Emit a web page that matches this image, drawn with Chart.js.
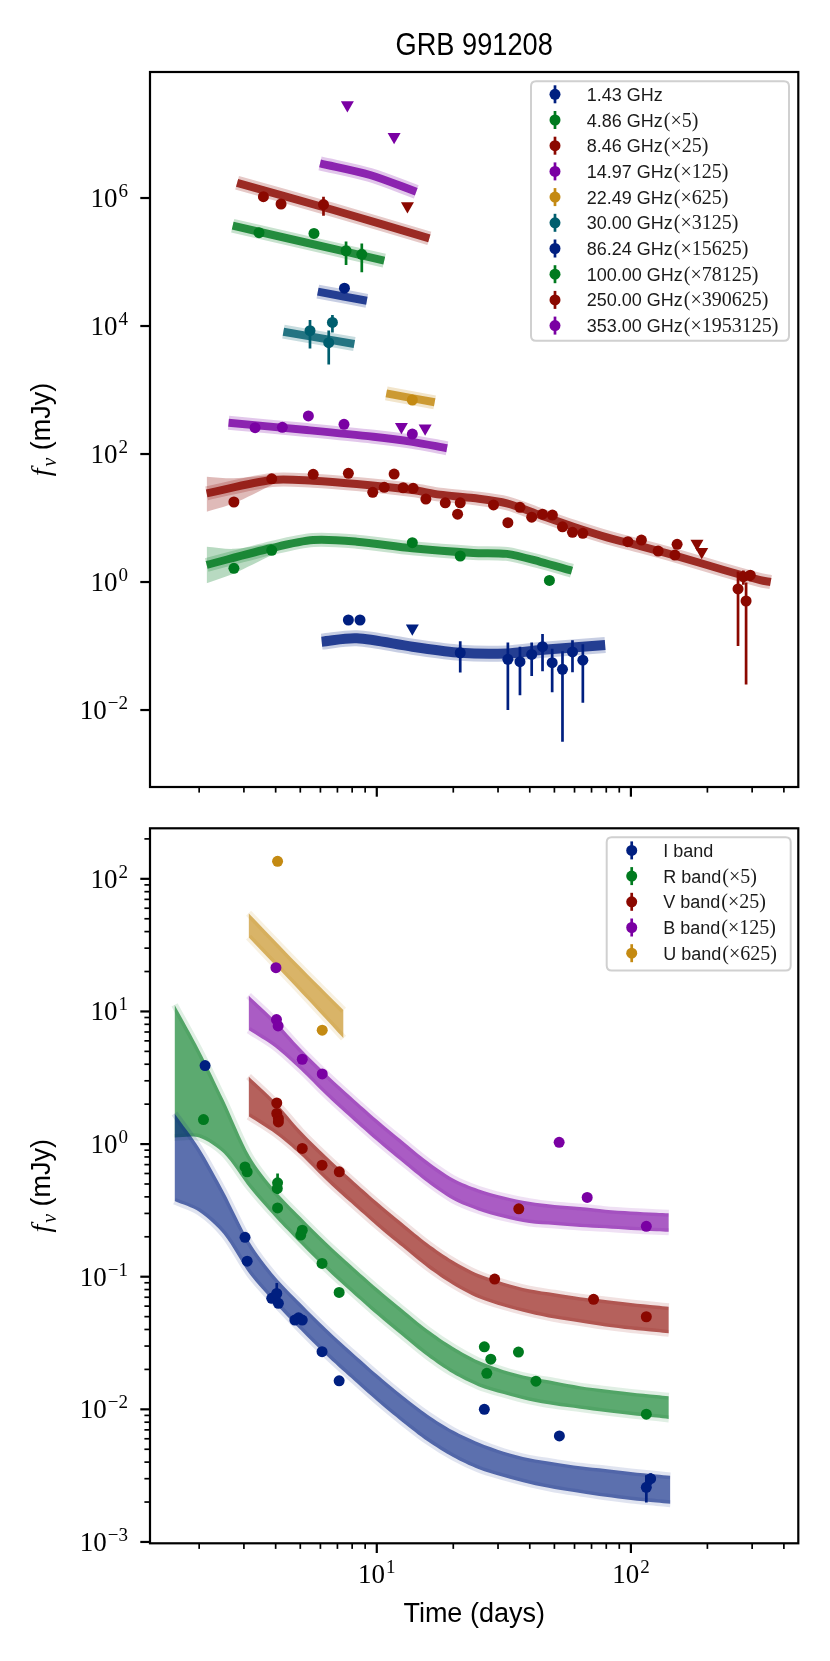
<!DOCTYPE html>
<html><head><meta charset="utf-8">
<script src="https://cdn.jsdelivr.net/npm/chart.js@4.4.1/dist/chart.umd.min.js"></script>
<style>
html,body{margin:0;padding:0;background:#fff;}
#wrap{position:relative;width:830px;height:1661px;overflow:hidden;background:#fff;}
#c1,#c2{position:absolute;left:0;}
#c1{top:0;} #c2{top:810px;}
</style></head><body>
<div id="wrap"><canvas id="c1" width="830" height="810"></canvas><canvas id="c2" width="830" height="851"></canvas></div>
<script>
// ---------------- axes ----------------
const X_MIN = 1.281, X_MAX = 455.8;
const TOP_Y_MIN = 6.27e-4, TOP_Y_MAX = 9.31e7;
const BOT_Y_MIN = 9.77e-4, BOT_Y_MAX = 240.4;
const X_MAJOR = [10, 100];
const X_MAJOR_EXP = ['1', '2'];
const X_MINOR = [2,3,4,5,6,7,8,9,20,30,40,50,60,70,80,90,200,300,400];
const TOP_Y_MAJOR = [1e-2, 1, 1e2, 1e4, 1e6];
const TOP_Y_EXP = ['\u22122', '0', '2', '4', '6'];
const BOT_Y_MAJOR = [1e-3, 1e-2, 1e-1, 1, 1e1, 1e2];
const BOT_Y_EXP = ['\u22123', '\u22122', '\u22121', '0', '1', '2'];
const BOT_Y_MINOR_MULT = [2,3,4,5,6,7,8,9];

// ---------------- legends ----------------
const TITLE = 'GRB 991208';
const X_TITLE = 'Time (days)';
const TOP_LEG_LABELS = ['1.43 GHz','4.86 GHz','8.46 GHz','14.97 GHz','22.49 GHz','30.00 GHz','86.24 GHz','100.00 GHz','250.00 GHz','353.00 GHz'];
const TOP_LEG_FACTORS = ['','\u00d75','\u00d725','\u00d7125','\u00d7625','\u00d73125','\u00d715625','\u00d778125','\u00d7390625','\u00d71953125'];
const BOT_LEG_LABELS = ['I band','R band','V band','B band','U band'];
const BOT_LEG_FACTORS = ['','\u00d75','\u00d725','\u00d7125','\u00d7625'];

// ---------------- top panel data (radio / mm) ----------------
const r143_t = [7.73,8.59,21.3,32.8,36.6,40.7,44.9,49.0,53.8,58.9,64.7];
const r143_f = [0.255,0.255,0.0785,0.062,0.057,0.074,0.0975,0.055,0.0432,0.081,0.060];
const r143_e = [0.015,0.015,0.04,0.052,0.04,0.04,0.057,0.036,0.04,0.042,0.047];
const r143_ulT = [13.8], r143_ulF = [0.19];
const r143_mT = [6.07,8.34,13.8,21.3,32.5,44,79.2];
const r143_mF = [0.117,0.132,0.0975,0.0785,0.0767,0.0866,0.104];

const r486_t = [2.74,3.86,13.8,21.3,47.8];
const r486_f = [1.64,3.13,4.11,2.55,1.06];
const r486_e = [0.1,0.2,0.3,0.2,0.1];
const r486_mT = [2.14,3.86,5.62,8.34,13.8,24,32.5,44,58.6];
const r486_mF = [1.85,3.4,4.53,4.27,3.37,2.85,2.75,2.07,1.50];
const r486_fanT = [2.14,2.74,3.86], r486_fanHi = [3.56,3.3,4.03], r486_fanLo = [0.955,1.36,2.64];

const r846_t = [2.74,3.86,5.62,7.73,9.64,10.7,11.7,12.7,13.9,15.6,18.6,20.8,21.3,28.8,32.8,36.6,40.7,44.9,49.1,53.8,58.9,64.7,97.3,110,128,149,152,264,277,284,295];
const r846_f = [17.8,41,48.2,49.9,25.2,30.2,48.7,29.7,29.1,19.8,17.3,11.5,17.3,16.0,8.45,14.7,10.3,11.5,11.1,7.3,5.97,5.76,4.27,4.53,3.05,2.64,3.88,0.78,1.21,0.505,1.28];
const r846_e = [1.5,2,2,2,1.5,1.5,2,1.5,1.5,1,1,1,1,1,0.8,1,0.8,0.8,0.8,0.6,0.5,0.5,0.4,0.6,0.4,0.3,0.4,0.68,0.3,0.48,0.25];
const r846_ulT = [182,190], r846_ulF = [4.0,2.97];
const r846_mT = [2.14,3.86,5.62,8.34,13.8,17.7,24,32.5,44,59.4,80.5,109,147,232,323,355];
const r846_mF = [24.3,39.3,38.3,34.0,27.4,23.2,20.5,17.0,11.1,7.31,4.99,3.65,2.64,1.54,1.07,1.0];
const r846_fanT = [2.14,2.74,3.86], r846_fanHi = [44.2,41.7,46.8], r846_fanLo = [12.5,17.0,32.8];

const r1497_t = [3.32,4.25,5.38,7.43,13.8];
const r1497_f = [258,261,393,291,205];
const r1497_e = [12,12,18,15,20];
const r1497_ulT = [12.5,15.5], r1497_ulF = [267,252];
const r1497_mT = [2.61,5.3,9.7,13.8,18.9];
const r1497_mF = [308,237,186,155,123];

const r2249_t = [13.8], r2249_f = [698], r2249_e = [90];
const r2249_mT = [10.9,16.9], r2249_mF = [887,643];

const r30_t = [5.46,6.47,6.69], r30_f = [8450,5500,11400], r30_e = [4000,3000,3500];
const r30_mT = [4.29,8.16], r30_mF = [8150,5240];

const r8624_t = [7.46], r8624_f = [39000], r8624_e = [3000];
const r8624_mT = [5.86,9.14], r8624_mF = [34400,24800];

const r100_t = [3.44,5.66,7.57,8.73], r100_f = [287000,280000,150000,132000], r100_e = [15000,20000,60000,63000];
const r100_mT = [2.71,5.30,10.7], r100_mF = [369000,200000,105000];

const r250_t = [3.58,4.20,6.17], r250_f = [1050000,806000,790000], r250_e = [150000,100000,260000];
const r250_ulT = [13.2], r250_ulF = [750000];
const r250_mT = [2.82,6.75,16.1], r250_mF = [1730000,650000,234000];

const r353_ulT = [7.66,11.7], r353_ulF = [2.84e7,9.1e6];
const r353_mT = [5.98,9.41,14.3], r353_mF = [3480000,2290000,1250000];

// ---------------- bottom panel data (optical) ----------------
const I_t = [2.11,3.03,3.09,3.86,3.98,4.04,4.10,4.76,4.92,5.09,6.09,7.11,26.5,52.3,115,119.6];
const I_f = [3.91,0.198,0.131,0.0687,0.0706,0.0748,0.063,0.0471,0.049,0.0471,0.0272,0.0164,0.0100,0.0063,0.00258,0.0030];
const I_e = [0,0,0,0.005,0.004,0.015,0.004,0.003,0.003,0.003,0,0,0,0,0.0006,0.0003];
const I_bT = [1.6,2.0,2.5,3.16,3.98,5.01,6.31,7.94,10,12.6,15.85,19.95,25.1,31.6,39.8,50.1,63.1,79.4,100,126,143];
const I_bHi = [1.698,0.933,0.4365,0.182,0.100,0.0631,0.0407,0.0272,0.0184,0.01274,0.00912,0.00692,0.00562,0.00479,0.00427,0.00398,0.00372,0.00355,0.00337,0.00322,0.00315];
const I_bLo = [0.3715,0.309,0.2089,0.1047,0.0631,0.0398,0.0257,0.0172,0.0116,0.00804,0.00575,0.00437,0.00355,0.00309,0.00275,0.00251,0.00234,0.00219,0.002075,0.001986,0.001941];

const R_t = [2.08,3.03,3.09,4.06,4.07,4.07,5.02,5.09,6.09,7.11,26.5,27.1,28.1,36.1,42.3,115];
const R_f = [1.53,0.673,0.618,0.463,0.510,0.330,0.206,0.224,0.126,0.0761,0.0296,0.0187,0.0239,0.027,0.0163,0.0092];
const R_e = [0,0,0,0.03,0.09,0,0,0,0,0,0,0,0,0,0,0];
const R_bT = [1.6,2.0,2.5,3.16,3.98,5.01,6.31,7.94,10,12.6,15.85,19.95,25.1,31.6,39.8,50.1,63.1,79.4,100,126,141];
const R_bHi = [11.22,5.13,2.138,0.813,0.447,0.282,0.182,0.1216,0.0822,0.0569,0.0398,0.0295,0.0232,0.01972,0.01758,0.01622,0.01496,0.01413,0.01340,0.01282,0.01253];
const R_bLo = [1.122,1.122,0.851,0.468,0.282,0.178,0.1148,0.0767,0.0519,0.0359,0.0251,0.0186,0.01496,0.01303,0.01161,0.01072,0.01012,0.00955,0.00906,0.00867,0.00847];

const V_t = [4.04,4.04,4.10,4.10,5.09,6.09,7.12,29.1,36.2,71.3,115];
const V_f = [2.04,1.70,1.56,1.47,0.927,0.693,0.618,0.096,0.325,0.0675,0.0499];
const V_bT = [3.13,3.98,5.01,6.31,7.94,10,12.6,15.85,19.95,25.1,31.6,39.8,50.1,63.1,79.4,100,126,141];
const V_bHi = [3.236,2.089,1.259,0.813,0.543,0.367,0.254,0.178,0.1318,0.1047,0.0902,0.0804,0.0750,0.0700,0.0668,0.0634,0.0607,0.0593];
const V_bLo = [1.622,1.202,0.832,0.537,0.359,0.2427,0.168,0.1175,0.0871,0.0692,0.0596,0.0531,0.0484,0.0452,0.0422,0.0400,0.0383,0.0374];

const B_t = [4.01,4.03,4.09,5.09,6.10,52.2,67.3,115];
const B_f = [21.4,8.69,7.78,4.36,3.38,1.03,0.396,0.240];
const B_bT = [3.13,3.98,5.01,6.31,7.94,10,12.6,15.85,19.95,25.1,31.6,39.8,50.1,63.1,79.4,100,126,141];
const B_bHi = [13.18,8.51,5.25,3.39,2.265,1.531,1.059,0.741,0.550,0.457,0.403,0.367,0.3467,0.335,0.320,0.3105,0.304,0.3006];
const B_bLo = [7.24,5.37,3.63,2.344,1.567,1.059,0.733,0.513,0.380,0.316,0.2786,0.254,0.2455,0.237,0.2317,0.2249,0.2203,0.2178];

const U_t = [4.07,6.10], U_f = [135.5,7.22];
const U_bT = [3.13,4.84,7.4], U_bHi = [55.0,23.1,10.2], U_bLo = [36.3,15.1,6.28];

// ---------------- styles ----------------
const SANS = '"Liberation Sans", Arial, Helvetica, sans-serif';
const SERIF = '"Liberation Serif", "Times New Roman", serif';
const COL = {blue:'0,31,128', green:'0,122,31', red:'139,8,0', purple:'122,0,163', gold:'196,138,18', teal:'0,94,110'};
const TOP_LEG_COLORS = ['blue','green','red','purple','gold','teal','blue','green','red','purple'];
const BOT_LEG_COLORS = ['blue','green','red','purple','gold'];
const TENSION = 0.3;
function rgba(c,a){return 'rgba('+c+','+a+')';}
function pts(t,f){return t.map((v,i)=>({x:v,y:f[i]}));}

const TOP_SERIES = [
 {c:'blue',  t:r143_t,f:r143_f,e:r143_e,ulT:r143_ulT,ulF:r143_ulF,mT:r143_mT,mF:r143_mF,w:10},
 {c:'green', t:r486_t,f:r486_f,e:r486_e,mT:r486_mT,mF:r486_mF,fanT:r486_fanT,fanHi:r486_fanHi,fanLo:r486_fanLo,w:8},
 {c:'red',   t:r846_t,f:r846_f,e:r846_e,ulT:r846_ulT,ulF:r846_ulF,mT:r846_mT,mF:r846_mF,fanT:r846_fanT,fanHi:r846_fanHi,fanLo:r846_fanLo,w:8},
 {c:'purple',t:r1497_t,f:r1497_f,e:r1497_e,ulT:r1497_ulT,ulF:r1497_ulF,mT:r1497_mT,mF:r1497_mF,w:8},
 {c:'gold',  t:r2249_t,f:r2249_f,e:r2249_e,mT:r2249_mT,mF:r2249_mF,w:8},
 {c:'teal',  t:r30_t,f:r30_f,e:r30_e,mT:r30_mT,mF:r30_mF,w:8},
 {c:'blue',  t:r8624_t,f:r8624_f,e:r8624_e,mT:r8624_mT,mF:r8624_mF,w:8},
 {c:'green', t:r100_t,f:r100_f,e:r100_e,mT:r100_mT,mF:r100_mF,w:8},
 {c:'red',   t:r250_t,f:r250_f,e:r250_e,ulT:r250_ulT,ulF:r250_ulF,mT:r250_mT,mF:r250_mF,w:8},
 {c:'purple',ulT:r353_ulT,ulF:r353_ulF,mT:r353_mT,mF:r353_mF,w:8}
];
const BOT_SERIES = [
 {c:'blue',  t:I_t,f:I_f,e:I_e,bT:I_bT,bHi:I_bHi,bLo:I_bLo},
 {c:'green', t:R_t,f:R_f,e:R_e,bT:R_bT,bHi:R_bHi,bLo:R_bLo},
 {c:'red',   t:V_t,f:V_f,bT:V_bT,bHi:V_bHi,bLo:V_bLo},
 {c:'purple',t:B_t,f:B_f,bT:B_bT,bHi:B_bHi,bLo:B_bLo},
 {c:'gold',  t:U_t,f:U_f,bT:U_bT,bHi:U_bHi,bLo:U_bLo}
];

function pointDs(s){
  const out=[]; const c=COL[s.c];
  if(s.t){
    out.push({type:'line',showLine:false,data:pts(s.t,s.f),errs:s.e||null,errColor:rgba(c,1),
      pointRadius:5.5,pointHoverRadius:5.5,pointBackgroundColor:rgba(c,1),pointBorderWidth:0,pointBorderColor:rgba(c,1),order:1});
  }
  if(s.ulT){
    out.push({type:'line',showLine:false,data:pts(s.ulT,s.ulF),pointStyle:'triangle',pointRotation:180,
      pointRadius:7.5,pointHoverRadius:7.5,pointBackgroundColor:rgba(c,1),pointBorderWidth:0,order:1});
  }
  return out;
}
function topDatasets(){
  const ds=[];
  TOP_SERIES.forEach(s=>{
    const c=COL[s.c];
    if(s.fanT){
      ds.push({type:'line',data:pts(s.fanT,s.fanHi),borderColor:'transparent',borderWidth:0,pointRadius:0,fill:'+1',backgroundColor:rgba(c,0.28),tension:TENSION,order:12});
      ds.push({type:'line',data:pts(s.fanT,s.fanLo),borderColor:'transparent',borderWidth:0,pointRadius:0,fill:false,tension:TENSION,order:12});
    }
    ds.push({type:'line',data:pts(s.mT,s.mF),borderColor:rgba(c,0.22),borderWidth:s.w+6,pointRadius:0,fill:false,tension:TENSION,borderCapStyle:'butt',order:11});
    ds.push({type:'line',data:pts(s.mT,s.mF),borderColor:rgba(c,0.82),borderWidth:s.w,pointRadius:0,fill:false,tension:TENSION,borderCapStyle:'butt',order:10});
  });
  TOP_SERIES.forEach(s=>pointDs(s).forEach(d=>ds.push(d)));
  return ds;
}
function botDatasets(){
  const ds=[];
  BOT_SERIES.forEach(s=>{
    const c=COL[s.c];
    ds.push({type:'line',data:pts(s.bT,s.bHi),borderColor:rgba(c,0.12),borderWidth:7,pointRadius:0,fill:'+1',backgroundColor:rgba(c,0.64),tension:TENSION,order:10});
    ds.push({type:'line',data:pts(s.bT,s.bLo),borderColor:rgba(c,0.12),borderWidth:7,pointRadius:0,fill:false,tension:TENSION,order:10});
  });
  BOT_SERIES.forEach(s=>pointDs(s).forEach(d=>ds.push(d)));
  return ds;
}

// ---------------- drawing helpers ----------------
function drawPow(ctx, exp, x, baseY, align){
  ctx.font='27px '+SERIF; const wb=ctx.measureText('10').width;
  ctx.font='19px '+SERIF; const we=ctx.measureText(exp).width;
  const tot=wb+1+we;
  const x0 = align==='right' ? x-tot : x-tot/2;
  ctx.textAlign='left'; ctx.textBaseline='alphabetic'; ctx.fillStyle='#000';
  ctx.font='27px '+SERIF; ctx.fillText('10',x0,baseY);
  ctx.font='19px '+SERIF; ctx.fillText(exp,x0+wb+1,baseY-10);
}
function drawLegend(ctx, box, labels, factors, colors){
  ctx.save();
  const r=5;
  ctx.beginPath();
  ctx.moveTo(box.x+r,box.y); ctx.lineTo(box.x+box.w-r,box.y); ctx.quadraticCurveTo(box.x+box.w,box.y,box.x+box.w,box.y+r);
  ctx.lineTo(box.x+box.w,box.y+box.h-r); ctx.quadraticCurveTo(box.x+box.w,box.y+box.h,box.x+box.w-r,box.y+box.h);
  ctx.lineTo(box.x+r,box.y+box.h); ctx.quadraticCurveTo(box.x,box.y+box.h,box.x,box.y+box.h-r);
  ctx.lineTo(box.x,box.y+r); ctx.quadraticCurveTo(box.x,box.y,box.x+r,box.y); ctx.closePath();
  ctx.fillStyle='rgba(255,255,255,0.8)'; ctx.fill();
  ctx.strokeStyle='#d0d0d0'; ctx.lineWidth=2; ctx.stroke();
  labels.forEach((lab,i)=>{
    const y=box.row0+i*box.step; const c=COL[colors[i]];
    ctx.strokeStyle=rgba(c,1); ctx.lineWidth=2.7;
    ctx.beginPath(); ctx.moveTo(box.mx,y-9); ctx.lineTo(box.mx,y+9); ctx.stroke();
    ctx.fillStyle=rgba(c,1); ctx.beginPath(); ctx.arc(box.mx,y,5.5,0,Math.PI*2); ctx.fill();
    ctx.fillStyle='#1a1a1a'; ctx.textAlign='left'; ctx.textBaseline='alphabetic';
    ctx.font='18px '+SANS; ctx.fillText(lab,box.tx,y+6.5);
    if(factors[i]){
      const w=ctx.measureText(lab).width;
      ctx.font='20px '+SERIF; ctx.fillText('('+factors[i]+')',box.tx+w+1,y+6.5);
    }
  });
  ctx.restore();
}
function drawYLabel(ctx, cx, cy){
  ctx.save(); ctx.translate(cx,cy); ctx.rotate(-Math.PI/2);
  ctx.fillStyle='#000'; ctx.textAlign='left'; ctx.textBaseline='alphabetic';
  ctx.font='italic 28px '+SERIF; const w1=ctx.measureText('f').width;
  ctx.font='italic 20px '+SERIF; const w2=ctx.measureText('\u03bd').width;
  ctx.font='27px '+SANS; const w3=ctx.measureText(' (mJy)').width;
  const tot=w1+2+w2+w3; let x=-tot/2;
  ctx.font='italic 28px '+SERIF; ctx.fillText('f',x,0); x+=w1+2;
  ctx.font='italic 20px '+SERIF; ctx.fillText('\u03bd',x,6); x+=w2;
  ctx.font='27px '+SANS; ctx.fillText(' (mJy)',x,0);
  ctx.restore();
}
function makeAxesPlugin(cfg){
  return {
    id:'axesdraw'+cfg.id,
    beforeDatasetDraw(chart,args){
      const ds=chart.data.datasets[args.index];
      if(!ds.errs) return;
      const {ctx,chartArea:a,scales:{x,y}}=chart;
      ctx.save(); ctx.beginPath(); ctx.rect(a.left,a.top,a.right-a.left,a.bottom-a.top); ctx.clip();
      ctx.strokeStyle=ds.errColor; ctx.lineWidth=2.7; ctx.lineCap='butt';
      ds.data.forEach((p,i)=>{
        const e=ds.errs[i]; if(!e) return;
        const px=x.getPixelForValue(p.x);
        const yt=y.getPixelForValue(p.y+e);
        const yb=(p.y-e)>0 ? y.getPixelForValue(p.y-e) : a.bottom;
        ctx.beginPath(); ctx.moveTo(px,yt); ctx.lineTo(px,yb); ctx.stroke();
      });
      ctx.restore();
    },
    afterDraw(chart){
      const {ctx,chartArea:a,scales:{x,y}}=chart;
      ctx.save(); ctx.strokeStyle='#000';
      ctx.lineWidth=1.7;
      X_MINOR.forEach(v=>{const px=x.getPixelForValue(v); if(px<a.left||px>a.right) return; ctx.beginPath(); ctx.moveTo(px,a.bottom); ctx.lineTo(px,a.bottom+5.6); ctx.stroke();});
      ctx.lineWidth=2.2;
      X_MAJOR.forEach(v=>{const px=x.getPixelForValue(v); ctx.beginPath(); ctx.moveTo(px,a.bottom); ctx.lineTo(px,a.bottom+9.7); ctx.stroke();});
      ctx.lineWidth=1.7;
      cfg.yMinor.forEach(v=>{const py=y.getPixelForValue(v); if(py<a.top||py>a.bottom) return; ctx.beginPath(); ctx.moveTo(a.left-5.6,py); ctx.lineTo(a.left,py); ctx.stroke();});
      ctx.lineWidth=2.2;
      cfg.yMajor.forEach(v=>{const py=y.getPixelForValue(v); ctx.beginPath(); ctx.moveTo(a.left-9.7,py); ctx.lineTo(a.left,py); ctx.stroke();});
      ctx.lineWidth=2.2; ctx.strokeRect(a.left,a.top,a.right-a.left,a.bottom-a.top);
      ctx.restore();
      ctx.save();
      cfg.yMajor.forEach((v,i)=>{const py=y.getPixelForValue(v); drawPow(ctx,cfg.yExp[i],128,py+9,'right');});
      if(cfg.xLabels){
        X_MAJOR.forEach((v,i)=>{const px=x.getPixelForValue(v); drawPow(ctx,X_MAJOR_EXP[i],px,a.bottom+40,'center');});
        ctx.fillStyle='#000'; ctx.font='27px '+SANS; ctx.textAlign='center'; ctx.textBaseline='alphabetic';
        ctx.fillText(X_TITLE,(a.left+a.right)/2,a.bottom+79);
      }
      if(cfg.title){
        ctx.save(); ctx.translate((a.left+a.right)/2,55); ctx.scale(0.85,1);
        ctx.fillStyle='#000'; ctx.font='32px '+SANS; ctx.textAlign='center'; ctx.textBaseline='alphabetic';
        ctx.fillText(cfg.title,0,0); ctx.restore();
      }
      drawYLabel(ctx,50,(a.top+a.bottom)/2);
      drawLegend(ctx,cfg.legend,cfg.legLabels,cfg.legFactors,cfg.legColors);
      ctx.restore();
    }
  };
}

const BOT_Y_MINOR=[]; BOT_Y_MAJOR.forEach(d=>BOT_Y_MINOR_MULT.forEach(m=>BOT_Y_MINOR.push(d*m)));

function baseOptions(ymin,ymax,pad){
  return {
    responsive:false, animation:false, events:[],
    layout:{padding:pad},
    plugins:{legend:{display:false},tooltip:{enabled:false},title:{display:false}},
    scales:{
      x:{type:'logarithmic',min:X_MIN,max:X_MAX,display:false,bounds:'data'},
      y:{type:'logarithmic',min:ymin,max:ymax,display:false,bounds:'data'}
    }
  };
}

new Chart(document.getElementById('c1'),{
  type:'line',
  data:{datasets:topDatasets()},
  options:baseOptions(TOP_Y_MIN,TOP_Y_MAX,{left:150,top:72,right:31.7,bottom:23}),
  plugins:[makeAxesPlugin({id:1,yMajor:TOP_Y_MAJOR,yExp:TOP_Y_EXP,yMinor:[],xLabels:false,title:TITLE,
    legend:{x:531,y:81.3,w:258,h:259.4,row0:94.3,step:25.7,mx:555,tx:586.7},
    legLabels:TOP_LEG_LABELS,legFactors:TOP_LEG_FACTORS,legColors:TOP_LEG_COLORS})]
});
new Chart(document.getElementById('c2'),{
  type:'line',
  data:{datasets:botDatasets()},
  options:baseOptions(BOT_Y_MIN,BOT_Y_MAX,{left:150,top:18.3,right:31.7,bottom:117.7}),
  plugins:[makeAxesPlugin({id:2,yMajor:BOT_Y_MAJOR,yExp:BOT_Y_EXP,yMinor:BOT_Y_MINOR,xLabels:true,title:null,
    legend:{x:606.7,y:27.2,w:184,h:133.3,row0:40.4,step:25.7,mx:631.7,tx:663.3},
    legLabels:BOT_LEG_LABELS,legFactors:BOT_LEG_FACTORS,legColors:BOT_LEG_COLORS})]
});
</script>
</body></html>
